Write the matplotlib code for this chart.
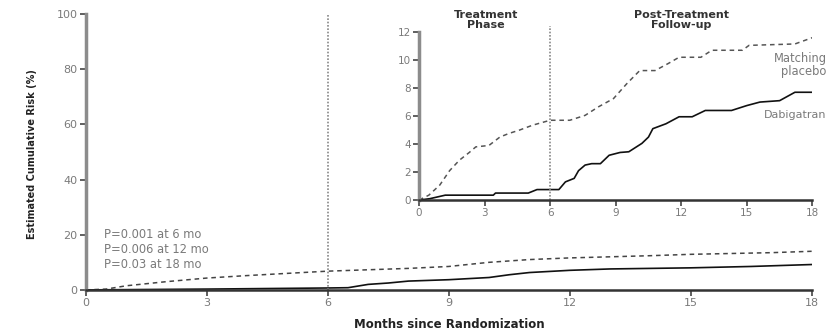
import matplotlib
matplotlib.use("Agg")
import matplotlib.pyplot as plt

plt.rcParams["font.family"] = ["DejaVu Sans"]

# Main panel curves (months, cumulative risk %)
main_months_placebo = [0, 0.5, 1, 2, 3, 4, 5, 6, 7, 8, 9, 10, 11, 12, 13, 14, 15, 16, 17, 18]
main_risk_placebo = [0, 0.3, 1.5, 3.0, 4.3, 5.2, 6.0, 6.8, 7.3, 7.8, 8.5, 10.0, 11.0, 11.6, 12.0, 12.4, 12.9, 13.2, 13.5, 14.0]
main_months_dabi = [0, 3, 6, 6.5, 7, 7.5, 8, 9, 10, 10.5, 11, 12, 13, 15, 16.5, 18]
main_risk_dabi = [0, 0.3, 0.7, 0.8, 2.0, 2.5, 3.2, 3.7, 4.5, 5.5, 6.3, 7.1, 7.6, 8.0, 8.5, 9.2]

# Inset curves
inset_months_placebo = [0, 0.45, 0.95, 1.4, 1.85, 2.3, 2.6, 3.2, 3.7, 4.1, 4.6, 5.2, 6.0, 6.9, 7.6,
                        8.2, 8.9, 9.5, 10.1, 10.8, 11.4, 11.9, 12.9, 13.4, 14.8, 15.1, 17.2, 18]
inset_risk_placebo = [0, 0.35, 1.07, 2.1, 2.85, 3.4, 3.8, 3.9, 4.5, 4.75, 5.0, 5.35, 5.7, 5.7, 6.05,
                      6.65, 7.25, 8.3, 9.25, 9.25, 9.75, 10.2, 10.2, 10.7, 10.7, 11.05, 11.15, 11.6]
inset_months_dabi = [0, 0.5, 1.2, 3.4, 3.5, 5.0, 5.4, 6.4, 6.7, 7.1, 7.3, 7.6, 7.9, 8.3, 8.7, 9.2, 9.6,
                     10.2, 10.5, 10.7, 11.3, 11.9, 12.5, 13.1, 14.3, 15.0, 15.6, 16.5, 17.2, 18]
inset_risk_dabi = [0, 0.1, 0.35, 0.35, 0.5, 0.5, 0.75, 0.75, 1.3, 1.55, 2.1, 2.5, 2.6, 2.6, 3.2, 3.4, 3.45,
                   4.05, 4.5, 5.1, 5.45, 5.95, 5.95, 6.4, 6.4, 6.75, 7.0, 7.1, 7.7, 7.7]

main_xticks = [0, 3, 6, 9, 12, 15, 18]
main_yticks = [0, 20, 40, 60, 80, 100]
inset_yticks = [0, 2, 4, 6, 8, 10, 12]
p_values = ["P=0.001 at 6 mo", "P=0.006 at 12 mo", "P=0.03 at 18 mo"]

tick_color = "#7a7a7a"


def style_axes(ax, fs):
    for side in ["top", "right"]:
        ax.spines[side].set_visible(False)
    ax.spines["left"].set_color("#8c8c8c")
    ax.spines["left"].set_linewidth(2.5)
    ax.spines["bottom"].set_color("#333333")
    ax.spines["bottom"].set_linewidth(1.8)
    ax.tick_params(axis="both", direction="out", length=4, width=1.2,
                   colors="#444444", labelcolor=tick_color, labelsize=fs, pad=2)


fig = plt.figure(figsize=(8.37, 3.34), dpi=100)

ax = fig.add_axes([0.1027, 0.132, 0.867, 0.826])
ax.plot(main_months_placebo, main_risk_placebo, color="#444444", linestyle=(0, (3, 2.5)), linewidth=1.1)
ax.plot(main_months_dabi, main_risk_dabi, color="#111111", linewidth=1.2)
ax.axvline(6, color="#888888", linestyle=(0, (1, 1)), linewidth=1.2)
ax.set_xlim(0, 18)
ax.set_ylim(0, 100)
ax.set_xticks(main_xticks)
ax.set_yticks(main_yticks)
style_axes(ax, 8)
fig.text(32 / 837, 1 - 154 / 334, "Estimated Cumulative Risk (%)", rotation=90, fontsize=7,
         fontweight="bold", color="#222222", ha="center", va="center")
fig.text(449 / 837, 1 - 325 / 334, "Months since Randomization", fontsize=8.5,
         fontweight="bold", color="#222222", ha="center", va="center")
ax.text(0.45, 22.5, "\n".join(p_values), fontsize=8.3, color=tick_color, va="top", ha="left", linespacing=1.2)

ins = fig.add_axes([0.5006, 0.401, 0.470, 0.503])
ins.plot(inset_months_placebo, inset_risk_placebo, color="#555555", linestyle=(0, (3, 2.5)), linewidth=1.1)
ins.plot(inset_months_dabi, inset_risk_dabi, color="#111111", linewidth=1.2)
ins.plot([6, 6], [0, 12.4], color="#888888", linestyle=(0, (1, 1)), linewidth=1.2, clip_on=False)
ins.set_xlim(0, 18)
ins.set_ylim(0, 12)
ins.set_xticks(main_xticks)
ins.set_yticks(inset_yticks)
style_axes(ins, 7.5)
ins.patch.set_alpha(0)

ins.text(3.05, 12.85, "Treatment\nPhase", ha="center", va="center", fontsize=8, fontweight="bold",
         color="#333333", linespacing=0.95)
ins.text(12.0, 12.85, "Post-Treatment\nFollow-up", ha="center", va="center", fontsize=8, fontweight="bold",
         color="#333333", linespacing=0.95)
ins.text(18.65, 9.65, "Matching\nplacebo", ha="right", va="center", fontsize=8.3, color=tick_color, linespacing=1.05)
ins.text(18.65, 6.1, "Dabigatran", ha="right", va="center", fontsize=8, color=tick_color)

fig.savefig("out.png", dpi=100)
